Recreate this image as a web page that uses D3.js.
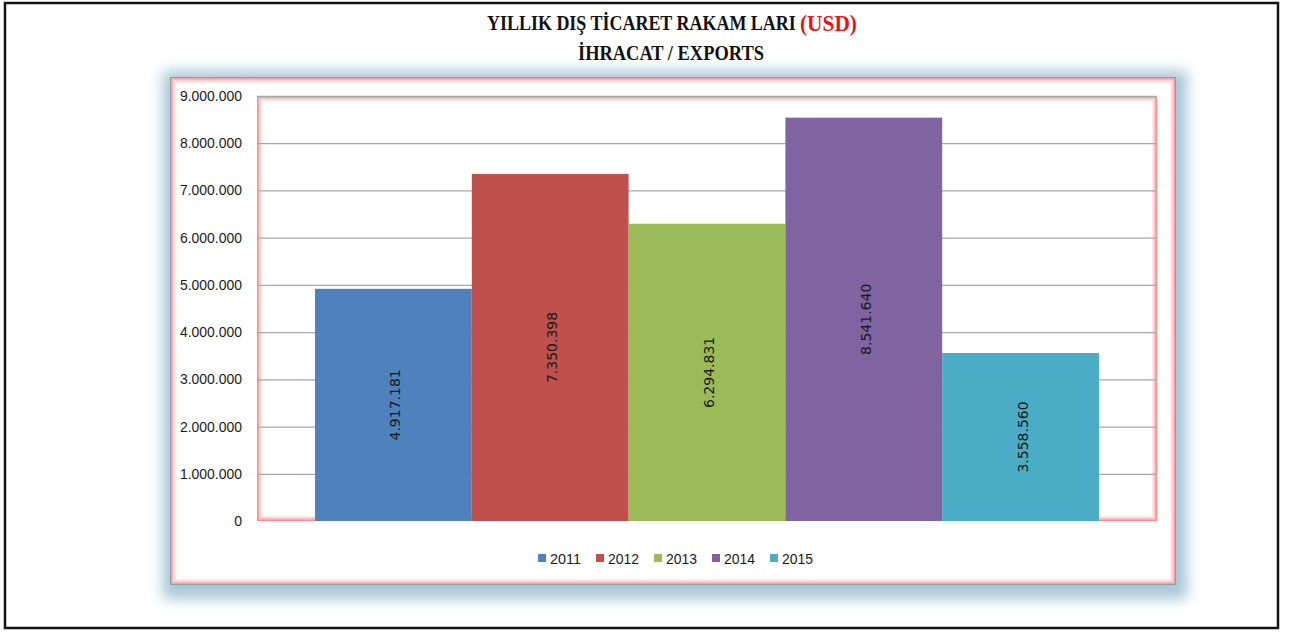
<!DOCTYPE html>
<html>
<head>
<meta charset="utf-8">
<script src="https://cdn.jsdelivr.net/npm/d3@7"></script>
<style>
  html, body { margin: 0; padding: 0; background: #fff; }
  svg { display: block; }
</style>
</head>
<body>
<svg id="chart" width="1291" height="632"></svg>
<script>
// ---- data ----
const years = ["2011", "2012", "2013", "2014", "2015"];
const exportsUSD = [4917181, 7350398, 6294831, 8541640, 3558560];
const colors = ["#4F81BD", "#C0504D", "#9BBB59", "#8064A2", "#4BACC6"];
const yTicks = [0, 1000000, 2000000, 3000000, 4000000, 5000000, 6000000, 7000000, 8000000, 9000000];
const titleLine1 = "YILLIK DIŞ TİCARET RAKAM LARI";
const titleUnit = "(USD)";
const titleLine2 = "İHRACAT / EXPORTS";

const svg = d3.select("#chart");

const loc = d3.formatLocale({ decimal: ",", thousands: ".", grouping: [3], currency: ["", ""] });
const fmt = loc.format(",d");

// outer black frame
svg.append("rect").attr("x", 5).attr("y", 3).attr("width", 1273).attr("height", 625)
  .attr("fill", "#fff").attr("stroke", "#111").attr("stroke-width", 2.5);

const defs = svg.append("defs");
const glow = defs.append("filter").attr("id", "blueGlow")
  .attr("x", "-10%").attr("y", "-15%").attr("width", "120%").attr("height", "130%");
glow.append("feGaussianBlur").attr("stdDeviation", 7);

// chart box
const box = { x: 170, y: 77, w: 1006, h: 508 };
svg.append("rect").attr("x", box.x - 7).attr("y", box.y - 6).attr("width", box.w + 18).attr("height", box.h + 20)
  .attr("fill", "#a6c6d5").attr("filter", "url(#blueGlow)");
svg.append("rect").attr("x", box.x).attr("y", box.y).attr("width", box.w).attr("height", box.h)
  .attr("fill", "#fff");

function innerGlow(x, y, w, h, n, maxOp) {
  for (let i = 0; i < n; i++) {
    svg.append("rect").attr("x", x + i + 0.5).attr("y", y + i + 0.5)
      .attr("width", w - 2 * i - 1).attr("height", h - 2 * i - 1)
      .attr("fill", "none").attr("stroke", "#ff5a5a")
      .attr("stroke-opacity", maxOp * Math.pow(1 - i / n, 1.6));
  }
}
innerGlow(box.x, box.y, box.w, box.h, 7, 0.75);
svg.append("rect").attr("x", box.x + 0.5).attr("y", box.y + 0.5).attr("width", box.w - 1).attr("height", box.h - 1)
  .attr("fill", "none").attr("stroke", "#8f9ea6").attr("stroke-width", 1);

// plot area
const plot = { left: 257, right: 1157, top: 96, bottom: 521 };
innerGlow(plot.left, plot.top, plot.right - plot.left, plot.bottom - plot.top, 6, 0.7);

const y = d3.scaleLinear().domain([0, 9000000]).range([plot.bottom, plot.top]);
const x = d3.scaleBand().domain(years).range([plot.left, plot.right]).paddingInner(0).paddingOuter(0.37);

// gridlines + tick labels
const yAxis = d3.axisLeft(y).tickValues(yTicks).tickFormat(fmt).tickSize(-(plot.right - plot.left)).tickPadding(15);
const gAxis = svg.append("g").attr("transform", `translate(${plot.left},0)`).call(yAxis);
gAxis.select(".domain").remove();
gAxis.selectAll(".tick line").attr("stroke", "#a8a8a8").attr("stroke-width", 1.3)
  .attr("display", d => d === 0 ? "none" : null);
gAxis.selectAll(".tick text").attr("fill", "#1a1a1a")
  .style("font-family", "'Liberation Sans', Arial, sans-serif").style("font-size", "14px")
  .attr("textLength", 62).attr("lengthAdjust", "spacingAndGlyphs")
  .each(function (d) { if (d === 0) d3.select(this).attr("textLength", null); });

// bars
svg.append("g").selectAll("rect").data(years).join("rect")
  .attr("x", d => x(d))
  .attr("width", x.bandwidth())
  .attr("y", (d, i) => y(exportsUSD[i]))
  .attr("height", (d, i) => y(0) - y(exportsUSD[i]))
  .attr("fill", (d, i) => colors[i]);

// value labels
svg.append("g").selectAll("text").data(years).join("text")
  .attr("transform", (d, i) => `translate(${x(d) + x.bandwidth() / 2 + 2},${(y(exportsUSD[i]) + y(0)) / 2}) rotate(-90)`)
  .attr("text-anchor", "middle").attr("dominant-baseline", "central")
  .attr("fill", "#1a1a1a")
  .style("font-family", "'DejaVu Sans', Verdana, sans-serif").style("font-size", "14px")
  .text((d, i) => fmt(exportsUSD[i]));

// titles (horizontally condensed to the reference widths)
const serif = "'Liberation Serif', 'Times New Roman', serif";
function fitText(txt, left, baseline, width, size, color) {
  const t = svg.append("text").attr("x", 0).attr("y", 0).attr("fill", color)
    .style("font-family", serif).style("font-weight", "bold").style("font-size", size + "px")
    .text(txt);
  const natural = t.node().getComputedTextLength();
  t.attr("transform", `translate(${left},${baseline}) scale(${width / natural},1)`);
  return t;
}
fitText(titleLine1, 487, 30, 309, 21, "#111");
fitText(titleUnit, 800, 31, 57, 23, "#e8141b");
fitText(titleLine2, 578, 60, 186, 20, "#111");

// legend
const lg = svg.append("g").selectAll("g").data(years).join("g")
  .attr("transform", (d, i) => `translate(${538 + i * 58},554)`);
lg.append("rect").attr("width", 8).attr("height", 8).attr("fill", (d, i) => colors[i]);
lg.append("text").attr("x", 12).attr("y", 10).attr("fill", "#1a1a1a")
  .style("font-family", "'Liberation Sans', Arial, sans-serif").style("font-size", "14px")
  .attr("textLength", 31).attr("lengthAdjust", "spacingAndGlyphs")
  .text(d => d);
</script>
</body>
</html>
